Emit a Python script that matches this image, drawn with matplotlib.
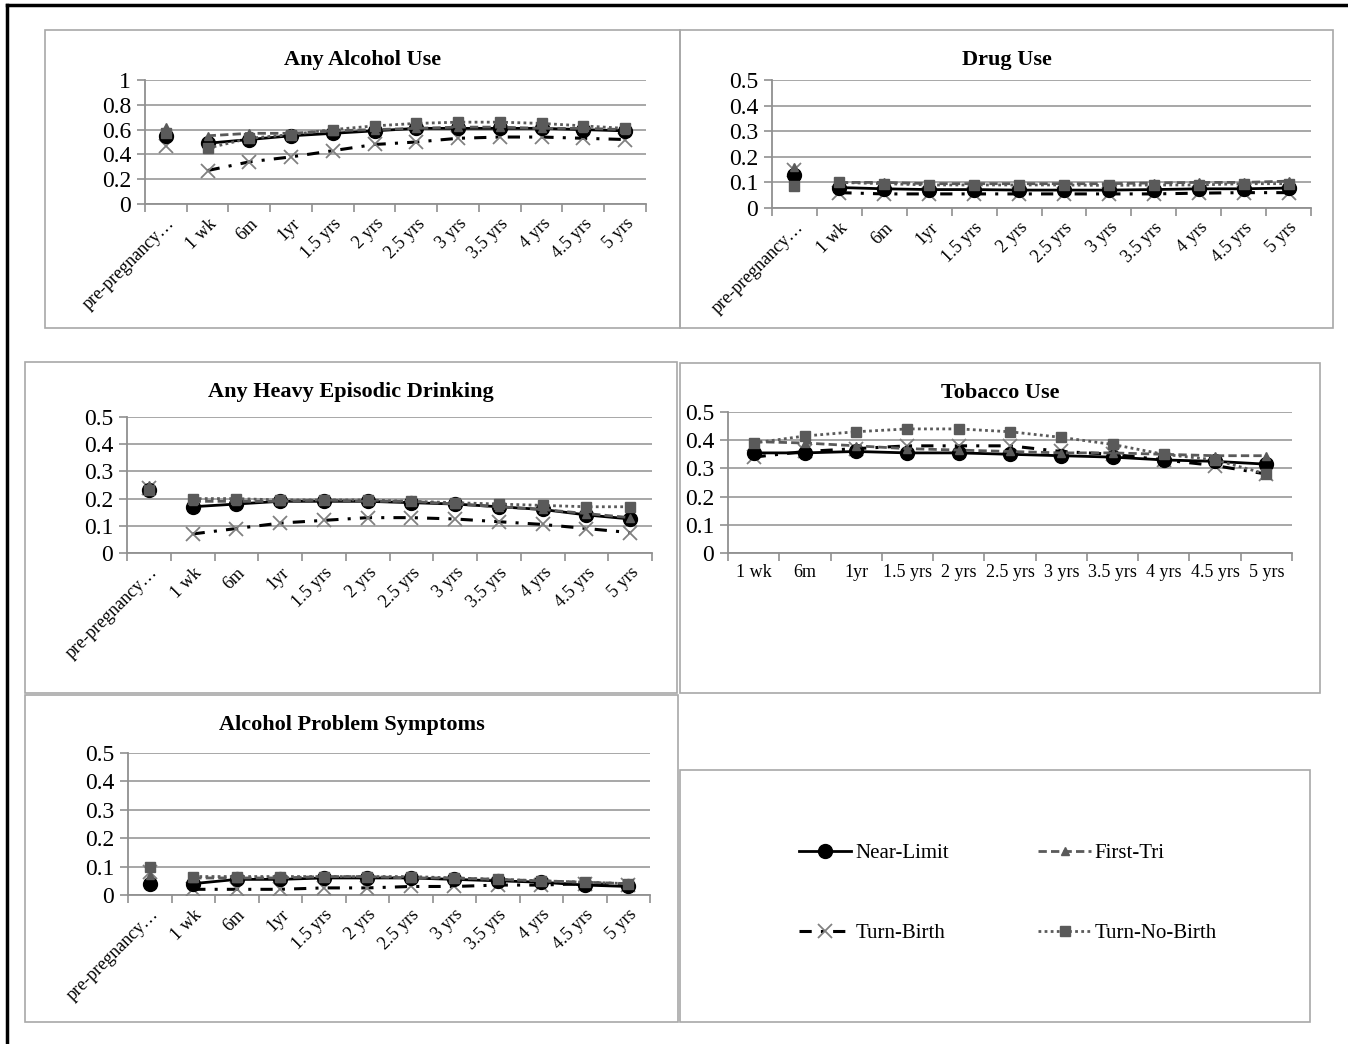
import numpy as np
import matplotlib.pyplot as plt
from matplotlib.patches import Rectangle
from matplotlib.lines import Line2D

plt.rcParams['font.family'] = ['Liberation Serif', 'DejaVu Serif']

W, H = 1348, 1044

cats = ['pre-pregnancy…', '1 wk', '6m', '1yr', '1.5 yrs', '2 yrs', '2.5 yrs',
        '3 yrs', '3.5 yrs', '4 yrs', '4.5 yrs', '5 yrs']
tob_cats = cats[1:]

# Any Alcohol Use
alc_near = [0.55, 0.49, 0.52, 0.55, 0.57, 0.59, 0.61, 0.61, 0.61, 0.61, 0.60, 0.59]
alc_first = [0.62, 0.55, 0.57, 0.57, 0.59, 0.60, 0.61, 0.62, 0.62, 0.61, 0.61, 0.60]
alc_turnb = [0.47, 0.27, 0.34, 0.38, 0.43, 0.48, 0.50, 0.53, 0.54, 0.54, 0.53, 0.52]
alc_turnnb = [0.57, 0.45, 0.53, 0.56, 0.60, 0.63, 0.65, 0.66, 0.66, 0.65, 0.63, 0.61]

# Drug Use
drug_near = [0.13, 0.08, 0.075, 0.072, 0.072, 0.07, 0.07, 0.07, 0.072, 0.075, 0.075, 0.078]
drug_first = [0.16, 0.10, 0.10, 0.095, 0.095, 0.095, 0.095, 0.095, 0.098, 0.10, 0.10, 0.105]
drug_turnb = [0.15, 0.06, 0.055, 0.055, 0.055, 0.055, 0.055, 0.055, 0.055, 0.058, 0.06, 0.06]
drug_turnnb = [0.085, 0.10, 0.095, 0.09, 0.09, 0.09, 0.09, 0.088, 0.09, 0.09, 0.095, 0.095]

# Any Heavy Episodic Drinking
hed_near = [0.23, 0.17, 0.18, 0.19, 0.19, 0.19, 0.185, 0.18, 0.17, 0.16, 0.14, 0.125]
hed_first = [0.25, 0.19, 0.19, 0.19, 0.195, 0.19, 0.19, 0.18, 0.17, 0.16, 0.145, 0.13]
hed_turnb = [0.24, 0.07, 0.09, 0.11, 0.12, 0.13, 0.13, 0.125, 0.115, 0.105, 0.09, 0.075]
hed_turnnb = [0.23, 0.20, 0.20, 0.195, 0.195, 0.195, 0.19, 0.185, 0.18, 0.175, 0.17, 0.17]

# Tobacco Use (no pre-pregnancy value)
tob_near = [0.355, 0.355, 0.36, 0.355, 0.355, 0.35, 0.345, 0.34, 0.33, 0.325, 0.315]
tob_first = [0.395, 0.39, 0.38, 0.37, 0.365, 0.36, 0.355, 0.355, 0.35, 0.345, 0.345]
tob_turnb = [0.34, 0.36, 0.37, 0.38, 0.38, 0.38, 0.36, 0.35, 0.33, 0.31, 0.28]
tob_turnnb = [0.39, 0.415, 0.43, 0.44, 0.44, 0.43, 0.41, 0.385, 0.35, 0.33, 0.28]

# Alcohol Problem Symptoms
aps_near = [0.04, 0.04, 0.055, 0.055, 0.06, 0.06, 0.06, 0.055, 0.05, 0.045, 0.035, 0.03]
aps_first = [0.07, 0.06, 0.06, 0.06, 0.065, 0.065, 0.06, 0.06, 0.055, 0.05, 0.045, 0.04]
aps_turnb = [0.08, 0.02, 0.02, 0.02, 0.025, 0.025, 0.03, 0.03, 0.035, 0.035, 0.04, 0.035]
aps_turnnb = [0.10, 0.065, 0.065, 0.065, 0.065, 0.065, 0.065, 0.06, 0.055, 0.05, 0.045, 0.04]

series_names = ['Near-Limit', 'First-Tri', 'Turn-Birth', 'Turn-No-Birth']
styles = {
    'Near-Limit': dict(color='black', ls='-', lw=2.0, marker='o', ms=10,
                       mfc='black', mec='black'),
    'First-Tri': dict(color='#5a5a5a', ls=(0, (3, 1.5)), lw=2.0, marker='^', ms=6,
                      mfc='#5a5a5a', mec='#5a5a5a'),
    'Turn-Birth': dict(color='black', ls=(0, (4, 3, 1, 3)), lw=2.2, marker='x', ms=10,
                       mfc='#808080', mec='#808080', mew=1.3),
    'Turn-No-Birth': dict(color='#5a5a5a', ls=(0, (1, 1.2)), lw=2.0, marker='s', ms=6.5,
                          mfc='#5a5a5a', mec='#5a5a5a'),
}
draw_order = ['Turn-Birth', 'Near-Limit', 'First-Tri', 'Turn-No-Birth']

fig = plt.figure(figsize=(W / 100, H / 100), dpi=100)


def fig_rect(x0, y0, x1, y1):
    return [x0 / W, 1 - y1 / H, (x1 - x0) / W, (y1 - y0) / H]


def box(x0, y0, x1, y1):
    fig.add_artist(Rectangle((x0 / W, 1 - y1 / H), (x1 - x0) / W, (y1 - y0) / H,
                             transform=fig.transFigure, fill=False,
                             edgecolor='#a8a8a8', lw=1.2))


def panel(rect, frame, title_y, title, labels, data, ymax, ystep, rotate, has_pre):
    box(*frame)
    fig.text((frame[0] + frame[2]) / 2 / W, 1 - title_y / H, title, fontsize=16,
             fontweight='bold', ha='center', va='center')
    ax = fig.add_axes(fig_rect(*rect))
    n = len(labels)
    x = np.arange(n)
    for name in draw_order:
        vals = data[name]
        st = styles[name]
        if has_pre:
            ax.plot(x[1:], vals[1:], **st, zorder=3)
            ax.plot(x[:1], vals[:1], ls='none', marker=st['marker'], ms=st['ms'],
                    mfc=st['mfc'], mec=st['mec'], mew=st.get('mew', 1), zorder=3)
        else:
            ax.plot(x, vals, **st, zorder=3)
    ax.set_xlim(-0.5, n - 0.5)
    ax.set_ylim(0, ymax)
    yt = np.round(np.arange(0, ymax + ystep / 2, ystep), 2)
    ax.set_yticks(yt)
    ax.set_yticklabels(['%g' % v for v in yt], fontsize=17)
    ax.yaxis.grid(True, color='#a0a0a0', lw=1.3)
    ax.set_axisbelow(True)
    ax.set_xticks(x)
    if rotate:
        ax.set_xticklabels(labels, fontsize=13, rotation=45, ha='right',
                           rotation_mode='anchor')
    else:
        ax.set_xticklabels(labels, fontsize=13)
    ax.set_xticks(np.arange(-0.5, n, 1.0), minor=True)
    ax.tick_params(axis='x', which='major', length=0, pad=8)
    ax.tick_params(axis='x', which='minor', length=6, color='#909090', width=1.2)
    ax.tick_params(axis='y', length=6, color='#909090', width=1.2, pad=4)
    for s in ['top', 'right']:
        ax.spines[s].set_visible(False)
    for s in ['left', 'bottom']:
        ax.spines[s].set_color('#909090')
        ax.spines[s].set_linewidth(1.3)
    return ax


def pack(a, b, c, d):
    return dict(zip(series_names, [a, b, c, d]))


panel((145, 80, 646, 204), (45, 30, 680, 328), 60, 'Any Alcohol Use', cats,
      pack(alc_near, alc_first, alc_turnb, alc_turnnb), 1.0, 0.2, True, True)
panel((772, 80, 1311, 208), (680, 30, 1333, 328), 60, 'Drug Use', cats,
      pack(drug_near, drug_first, drug_turnb, drug_turnnb), 0.5, 0.1, True, True)
panel((127, 417, 652, 553), (25, 362, 677, 693), 392, 'Any Heavy Episodic Drinking', cats,
      pack(hed_near, hed_first, hed_turnb, hed_turnnb), 0.5, 0.1, True, True)
panel((728, 412, 1292, 553), (680, 363, 1320, 693), 393, 'Tobacco Use', tob_cats,
      pack(tob_near, tob_first, tob_turnb, tob_turnnb), 0.5, 0.1, False, False)
panel((128, 753, 650, 895), (25, 695, 678, 1022), 725, 'Alcohol Problem Symptoms', cats,
      pack(aps_near, aps_first, aps_turnb, aps_turnnb), 0.5, 0.1, True, True)

# legend box, entries laid out row by row like the original
box(680, 770, 1310, 1022)
leg_order = ['Near-Limit', 'Turn-Birth', 'First-Tri', 'Turn-No-Birth']
handles = [Line2D([], [], **styles[nm]) for nm in leg_order]
fig.legend(handles, leg_order, ncol=2, frameon=False, fontsize=15,
           loc='center', bbox_to_anchor=(1008 / W, 1 - 893 / H),
           handlelength=2.5, handletextpad=0.2, columnspacing=4.3,
           labelspacing=2.9)

# outer black border (left and top)
fig.add_artist(Line2D([7 / W, 7 / W], [0, 1 - 5 / H], color='black', lw=2.5,
                      transform=fig.transFigure))
fig.add_artist(Line2D([7 / W, 1], [1 - 5 / H, 1 - 5 / H], color='black', lw=2.5,
                      transform=fig.transFigure))

fig.savefig('out.png', dpi=100, facecolor='white')
